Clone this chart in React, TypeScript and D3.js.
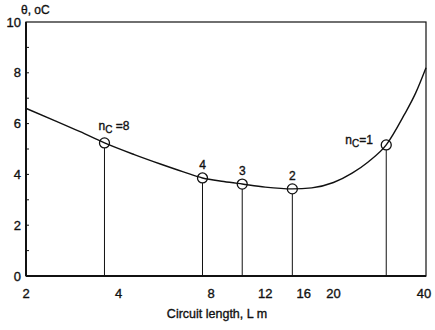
import React, { useEffect, useRef } from 'react';
import * as d3 from 'd3';

// circuit length L (m) vs temperature θ (oC)
const curveL = [2, 2.5, 3, 3.6, 4.5, 5.5, 6.5, 7.5, 8.8, 10.1, 12, 14.7, 17, 20, 23, 26, 29.7, 34, 37, 40];
const curveT = [6.6, 6.1, 5.68, 5.24, 4.78, 4.4, 4.1, 3.86, 3.72, 3.62, 3.5, 3.43, 3.47, 3.68, 4.05, 4.5, 5.16, 6.35, 7.2, 8.2];

// optimal points for each number of circuits
const pointL = [3.6, 7.5, 10.1, 14.7, 29.7];
const pointT = [5.24, 3.86, 3.62, 3.43, 5.16];
const pointLabels = ['8', '4', '3', '2', '1'];

const xTicks = [2, 4, 8, 12, 16, 20, 40];
const yTicks = [0, 2, 4, 6, 8, 10];

const W = 435;
const H = 330;

export default function App() {
  const ref = useRef<SVGSVGElement>(null);

  useEffect(() => {
    const svg = d3.select(ref.current);
    svg.selectAll('*').remove();

    const x = d3.scaleLog().domain([2, 40]).range([26, 426]);
    const y = d3.scaleLinear().domain([0, 10]).range([276, 22]);
    const font = 'Liberation Sans, Arial, sans-serif';

    const g = svg.append('g');

    // frame
    g.append('rect')
      .attr('x', x(2)).attr('y', y(10))
      .attr('width', x(40) - x(2)).attr('height', y(0) - y(10))
      .attr('fill', 'none').attr('stroke', '#111').attr('stroke-width', 1.2);
    g.append('line')
      .attr('x1', x(2)).attr('x2', x(40)).attr('y1', y(0)).attr('y2', y(0))
      .attr('stroke', '#111').attr('stroke-width', 2);
    g.append('line')
      .attr('x1', x(2)).attr('x2', x(2)).attr('y1', y(0)).attr('y2', y(10))
      .attr('stroke', '#111').attr('stroke-width', 2);

    // y minor ticks (inward)
    g.selectAll('.ytick')
      .data(d3.range(1, 10))
      .enter()
      .append('line')
      .attr('x1', x(2)).attr('x2', x(2) + 3)
      .attr('y1', d => y(d)).attr('y2', d => y(d))
      .attr('stroke', '#111').attr('stroke-width', 1);

    const txt = (sel: any, size: number) => sel
      .style('font-family', font).style('font-size', size + 'px')
      .attr('fill', '#111').attr('stroke', '#111').attr('stroke-width', 0.35);

    // y labels
    txt(g.selectAll('.ylab')
      .data(yTicks)
      .enter()
      .append('text')
      .attr('x', 21).attr('y', d => y(d))
      .attr('dy', '0.35em')
      .attr('text-anchor', 'end'), 13)
      .text(d => d);

    // x labels
    txt(g.selectAll('.xlab')
      .data(xTicks)
      .enter()
      .append('text')
      .attr('x', d => x(d) - (d === 40 ? 2 : 0)).attr('y', 298)
      .attr('text-anchor', 'middle'), 13)
      .text(d => d);

    txt(g.append('text')
      .attr('x', 217).attr('y', 318)
      .attr('text-anchor', 'middle'), 12.5)
      .text('Circuit length, L m');

    txt(g.append('text')
      .attr('x', 21).attr('y', 14), 12)
      .text('θ, oC');

    // curve
    const line = d3.line<number>()
      .x((d, i) => x(curveL[i]))
      .y(d => y(d))
      .curve(d3.curveMonotoneX);
    g.append('path')
      .datum(curveT)
      .attr('d', line)
      .attr('fill', 'none')
      .attr('stroke', '#111')
      .attr('stroke-width', 1.4);

    // drop lines
    g.selectAll('.drop')
      .data(pointL)
      .enter()
      .append('line')
      .attr('x1', d => x(d)).attr('x2', d => x(d))
      .attr('y1', (d, i) => y(pointT[i]) + 5).attr('y2', y(0))
      .attr('stroke', '#111').attr('stroke-width', 1);

    // circles
    g.selectAll('.pt')
      .data(pointL)
      .enter()
      .append('circle')
      .attr('cx', d => x(d)).attr('cy', (d, i) => y(pointT[i]))
      .attr('r', 5)
      .attr('fill', 'none').attr('stroke', '#111').attr('stroke-width', 1.3);

    // labels
    pointL.forEach((l, i) => {
      const cx = x(l);
      const cy = y(pointT[i]);
      if (i === 0 || i === 4) {
        const t = txt(g.append('text')
          .attr('x', i === 0 ? cx - 6 : cx - 41)
          .attr('y', i === 0 ? cy - 13 : cy - 1), 12);
        t.append('tspan').text('n');
        t.append('tspan').attr('dy', 3).style('font-size', '10px').text('C');
        t.append('tspan').attr('dy', -3).text(i === 0 ? ' =' + pointLabels[i] : '=' + pointLabels[i]);
      } else {
        txt(g.append('text')
          .attr('x', cx).attr('y', cy - 9)
          .attr('text-anchor', 'middle'), 12)
          .text(pointLabels[i]);
      }
    });
  }, []);

  return (
    <svg ref={ref} width={W} height={H}
      style={{ position: 'absolute', left: 0, top: 0, background: '#fff' }} />
  );
}
